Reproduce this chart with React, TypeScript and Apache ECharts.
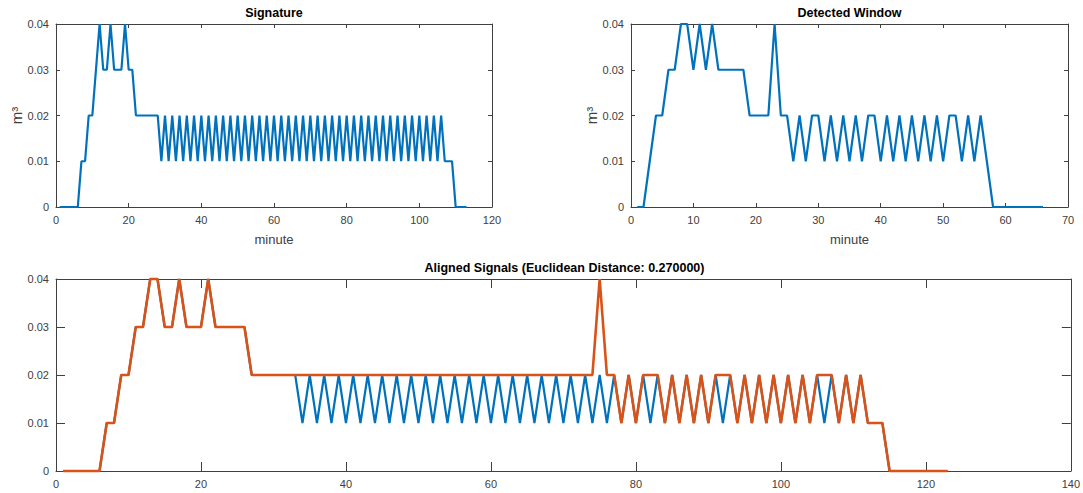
import React, { useEffect, useRef } from "react";
import * as echarts from "echarts";

// Signature signal (minute 1..113), m^3
const signature = [
  0, 0, 0, 0, 0, 0,
  0.01, 0.01, 0.02, 0.02, 0.03, 0.04, 0.03, 0.03, 0.04, 0.03,
  0.03, 0.03, 0.04, 0.03, 0.03, 0.02, 0.02, 0.02, 0.02, 0.02,
  0.02, 0.02, 0.01,
  0.02, 0.01, 0.02, 0.01, 0.02, 0.01, 0.02, 0.01, 0.02, 0.01,
  0.02, 0.01, 0.02, 0.01, 0.02, 0.01, 0.02, 0.01, 0.02, 0.01,
  0.02, 0.01, 0.02, 0.01, 0.02, 0.01, 0.02, 0.01, 0.02, 0.01,
  0.02, 0.01, 0.02, 0.01, 0.02, 0.01, 0.02, 0.01, 0.02, 0.01,
  0.02, 0.01, 0.02, 0.01, 0.02, 0.01, 0.02, 0.01, 0.02, 0.01,
  0.02, 0.01, 0.02, 0.01, 0.02, 0.01, 0.02, 0.01, 0.02, 0.01,
  0.02, 0.01, 0.02, 0.01, 0.02, 0.01, 0.02, 0.01, 0.02, 0.01,
  0.02, 0.01, 0.02, 0.01, 0.02, 0.01, 0.02,
  0.01, 0.01, 0.01, 0, 0, 0, 0,
];

// Detected window (minute 1..66), m^3
const detected = [
  0, 0, 0.01, 0.02, 0.02, 0.03, 0.03, 0.04, 0.04, 0.03,
  0.04, 0.03, 0.04, 0.03, 0.03, 0.03, 0.03, 0.03, 0.02, 0.02,
  0.02, 0.02, 0.04, 0.02, 0.02, 0.01, 0.02, 0.01, 0.02, 0.02,
  0.01, 0.02, 0.01, 0.02, 0.01, 0.02, 0.01, 0.02, 0.02, 0.01,
  0.02, 0.01, 0.02, 0.01, 0.02, 0.01, 0.02, 0.01, 0.02, 0.01,
  0.02, 0.02, 0.01, 0.02, 0.01, 0.02, 0.01, 0, 0, 0,
  0, 0, 0, 0, 0, 0,
];

// Aligned signature (blue), samples 1..123
const alignedSignature = [
  0, 0, 0, 0, 0, 0, 0.01, 0.01, 0.02, 0.02,
  0.03, 0.03, 0.04, 0.04, 0.03, 0.03, 0.04, 0.03, 0.03, 0.03,
  0.04, 0.03, 0.03, 0.03, 0.03, 0.03, 0.02, 0.02, 0.02, 0.02,
  0.02, 0.02, 0.02, 0.01, 0.02, 0.01, 0.02, 0.01, 0.02, 0.01,
  0.02, 0.01, 0.02, 0.01, 0.02, 0.01, 0.02, 0.01, 0.02, 0.01,
  0.02, 0.01, 0.02, 0.01, 0.02, 0.01, 0.02, 0.01, 0.02, 0.01,
  0.02, 0.01, 0.02, 0.01, 0.02, 0.01, 0.02, 0.01, 0.02, 0.01,
  0.02, 0.01, 0.02, 0.01, 0.02, 0.01, 0.02, 0.01, 0.02, 0.01,
  0.02, 0.01, 0.02, 0.01, 0.02, 0.01, 0.02, 0.01, 0.02, 0.01,
  0.02, 0.01, 0.02, 0.01, 0.02, 0.01, 0.02, 0.01, 0.02, 0.01,
  0.02, 0.01, 0.02, 0.01, 0.02, 0.01, 0.02, 0.01, 0.02, 0.01,
  0.02, 0.01, 0.01, 0.01, 0, 0, 0, 0, 0, 0,
  0, 0, 0,
];

// Aligned detected window (orange), samples 1..123
const alignedWindow = [
  0, 0, 0, 0, 0, 0, 0.01, 0.01, 0.02, 0.02,
  0.03, 0.03, 0.04, 0.04, 0.03, 0.03, 0.04, 0.03, 0.03, 0.03,
  0.04, 0.03, 0.03, 0.03, 0.03, 0.03, 0.02, 0.02, 0.02, 0.02,
  0.02, 0.02, 0.02, 0.02, 0.02, 0.02, 0.02, 0.02, 0.02, 0.02,
  0.02, 0.02, 0.02, 0.02, 0.02, 0.02, 0.02, 0.02, 0.02, 0.02,
  0.02, 0.02, 0.02, 0.02, 0.02, 0.02, 0.02, 0.02, 0.02, 0.02,
  0.02, 0.02, 0.02, 0.02, 0.02, 0.02, 0.02, 0.02, 0.02, 0.02,
  0.02, 0.02, 0.02, 0.02, 0.04, 0.02, 0.02, 0.01, 0.02, 0.01,
  0.02, 0.02, 0.02, 0.01, 0.02, 0.01, 0.02, 0.01, 0.02, 0.01,
  0.02, 0.02, 0.02, 0.01, 0.02, 0.01, 0.02, 0.01, 0.02, 0.01,
  0.02, 0.01, 0.02, 0.01, 0.02, 0.02, 0.02, 0.01, 0.02, 0.01,
  0.02, 0.01, 0.01, 0.01, 0, 0, 0, 0, 0, 0,
  0, 0, 0,
];

const titles = [
  "Signature",
  "Detected Window",
  "Aligned Signals (Euclidean Distance: 0.270000)",
];
const xMax = [120, 70, 140];
const xInterval = [20, 10, 20];
const xNames = ["minute", "minute", ""];
const yNames = ["m³", "m³", ""];

const BLUE = "#0072BD";
const ORANGE = "#D95319";
const FONT = "'Liberation Sans', Arial, Helvetica, sans-serif";
const AXIS = "#404040";
const LABEL = "#404040";

const grids = [
  { left: 56, top: 24, width: 436, height: 183 },
  { left: 631, top: 24, width: 437, height: 183 },
  { left: 56, top: 279, width: 1017, height: 192 },
];
const tickLen = [4, 4, 9];

const toPoints = (arr: number[]) => arr.map((v, i) => [i + 1, v]);

export default function App() {
  const ref = useRef<HTMLDivElement>(null);

  useEffect(() => {
    if (!ref.current) return;
    const chart = echarts.init(ref.current, null, { renderer: "svg" });

    const xAxes: any[] = [];
    const yAxes: any[] = [];
    grids.forEach((_, g) => {
      const common = {
        type: "value",
        gridIndex: g,
        splitLine: { show: false },
        axisLine: { show: true, onZero: false, lineStyle: { color: AXIS, width: 1 } },
        axisTick: { show: true, inside: true, length: tickLen[g], lineStyle: { color: AXIS } },
      };
      xAxes.push({
        ...common,
        position: "bottom",
        min: 0,
        max: xMax[g],
        interval: xInterval[g],
        axisLabel: { color: LABEL, fontSize: 11, fontFamily: FONT, margin: 7 },
        name: xNames[g],
        nameLocation: "middle",
        nameGap: 26,
        nameTextStyle: { color: LABEL, fontSize: 13, fontFamily: FONT },
      });
      xAxes.push({
        ...common,
        position: "top",
        min: 0,
        max: xMax[g],
        interval: xInterval[g],
        axisLabel: { show: false },
      });
      yAxes.push({
        ...common,
        position: "left",
        min: 0,
        max: 0.04,
        interval: 0.01,
        axisLabel: {
          color: LABEL,
          fontSize: 11,
          fontFamily: FONT,
          margin: 7,
          formatter: (v: number) => (v === 0 ? "0" : v.toFixed(2)),
        },
        name: yNames[g],
        nameLocation: "middle",
        nameRotate: 90,
        nameGap: 30,
        nameTextStyle: { color: LABEL, fontSize: 15, fontFamily: FONT },
      });
      yAxes.push({
        ...common,
        position: "right",
        min: 0,
        max: 0.04,
        interval: 0.01,
        axisLabel: { show: false },
      });
    });

    const line = (data: number[], g: number, color: string, width: number) => ({
      type: "line",
      xAxisIndex: g * 2,
      yAxisIndex: g * 2,
      data: toPoints(data),
      showSymbol: false,
      symbol: "none",
      lineStyle: { color, width },
      itemStyle: { color },
      clip: false,
    });

    chart.setOption({
      animation: false,
      backgroundColor: "#ffffff",
      grid: grids,
      xAxis: xAxes,
      yAxis: yAxes,
      graphic: grids.map((gr, i) => ({
        type: "text",
        x: gr.left + gr.width / 2,
        y: gr.top - 11,
        style: {
          text: titles[i],
          align: "center",
          verticalAlign: "middle",
          fill: "#000000",
          fontSize: 12.5,
          fontWeight: "bold",
          fontFamily: FONT,
        },
      })),
      series: [
        line(signature, 0, BLUE, 2.2),
        line(detected, 1, BLUE, 2.2),
        line(alignedSignature, 2, BLUE, 2.2),
        line(alignedWindow, 2, ORANGE, 2.6),
      ],
    });

    return () => chart.dispose();
  }, []);

  return (
    <div
      ref={ref}
      style={{ position: "fixed", left: 0, top: 0, width: 1083, height: 493, background: "#fff" }}
    />
  );
}
